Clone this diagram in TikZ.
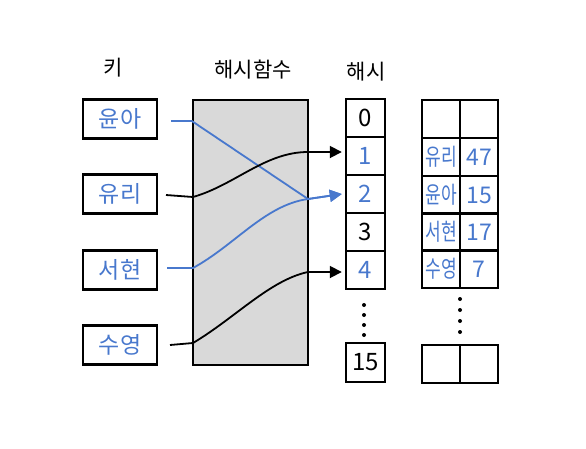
\documentclass[tikz,border=0pt]{standalone}
\usepackage{fontspec}
\setmainfont{Noto Sans CJK KR}
\usetikzlibrary{arrows.meta}
\definecolor{kblue}{RGB}{72,120,205}
\newcommand{\tallk}[1]{\scalebox{0.95}[1.3]{#1}}
\tikzset{
  keybox/.style={draw=black, line width=2.4pt, minimum width=74pt, minimum height=39pt, inner sep=0pt, font=\fontsize{23}{25}\selectfont, text=kblue},
  cell/.style={draw=black, line width=2.4pt, minimum width=39pt, minimum height=38pt, inner sep=0pt, font=\fontsize{24}{26}\selectfont},
  tcell/.style={draw=black, line width=2.4pt, minimum width=38pt, minimum height=37.5pt, inner sep=0pt, font=\fontsize{18}{20}\selectfont, text=kblue},
  tnum/.style={tcell, font=\fontsize{23}{25}\selectfont},
  title/.style={font=\fontsize{21}{23}\selectfont},
  conn/.style={line width=1.8pt, -{Triangle[length=12pt,width=12pt]}},
  dot/.style={fill=black, circle, inner sep=0pt, minimum size=4pt},
}
\begin{document}
\begin{tikzpicture}[x=1pt,y=-1pt]
\useasboundingbox (0,0) rectangle (586,448);
% titles
\node[title] (tk) at (113,68) {키};
\node[title] (th) at (253,70) {해시함수};
\node[title] (ts) at (366,72) {해시};
% keys
\node[keybox] (k1) at (120,119) {윤아};
\node[keybox] (k2) at (120,194) {유리};
\node[keybox] (k3) at (120,270) {서현};
\node[keybox] (k4) at (120,345) {수영};
% hash function box
\node[draw=black, line width=2.4pt, fill=black!15, minimum width=115pt, minimum height=265pt, inner sep=0pt] (hf) at (250.5,232.5) {};
% hash cells
\node[cell] (h0) at (365.5,118) {0};
\node[cell, text=kblue] (h1) at (365.5,156) {1};
\node[cell, text=kblue] (h2) at (365.5,194) {2};
\node[cell] (h3) at (365.5,232) {3};
\node[cell, text=kblue] (h4) at (365.5,270) {4};
\node[cell, minimum height=39pt] (h15) at (365.5,362.5) {15};
\node[dot] (hd1) at (364,305) {};
\node[dot] (hd2) at (364,315) {};
\node[dot] (hd3) at (364,325) {};
\node[dot] (hd4) at (364,335) {};
% table
\node[tcell] (t0a) at (441,119) {};
\node[tcell] (t0b) at (479,119) {};
\node[tcell] (t1a) at (441,157) {\tallk{유리}};
\node[tnum] (t1b) at (479,157) {47};
\node[tcell] (t2a) at (441,195) {\tallk{윤아}};
\node[tnum] (t2b) at (479,195) {15};
\node[tcell] (t3a) at (441,232) {\tallk{서현}};
\node[tnum] (t3b) at (479,232) {17};
\node[tcell] (t4a) at (441,269) {\tallk{수영}};
\node[tnum] (t4b) at (479,269) {7};
\node[tcell] (t5a) at (441,364) {};
\node[tcell] (t5b) at (479,364) {};
\node[dot] (td1) at (460,299) {};
\node[dot] (td2) at (460,310) {};
\node[dot] (td3) at (460,321) {};
\node[dot] (td4) at (460,332) {};
% connector points
\coordinate (s1) at (171,121);
\coordinate (a1) at (hf.west |- s1);
\coordinate (b1) at (308,199);
\coordinate (s2) at (166,195);
\coordinate (a2) at (193,197);
\coordinate (b2) at (308,152);
\coordinate (s3) at (167,268);
\coordinate (a3) at (193,268);
\coordinate (b3) at (308,199);
\coordinate (s4) at (170,345);
\coordinate (a4) at (193,343);
\coordinate (b4) at (308,272);
% connectors
\draw[conn, draw=kblue] (s1) -- (a1) -- (b1) -- ([xshift=-3pt]h2.west);
\draw[conn] (s2) -- (a2) .. controls (235,185) and (265,152) .. (b2) -- ([xshift=-3pt]h1.west |- b2);
\draw[conn, draw=kblue] (s3) -- (a3) .. controls (235,245) and (265,205) .. (b3) -- ([xshift=-3pt]h2.west);
\draw[conn] (s4) -- (a4) .. controls (235,318) and (270,280) .. (b4) -- ([xshift=-3pt]h4.west |- b4);
\end{tikzpicture}
\end{document}
